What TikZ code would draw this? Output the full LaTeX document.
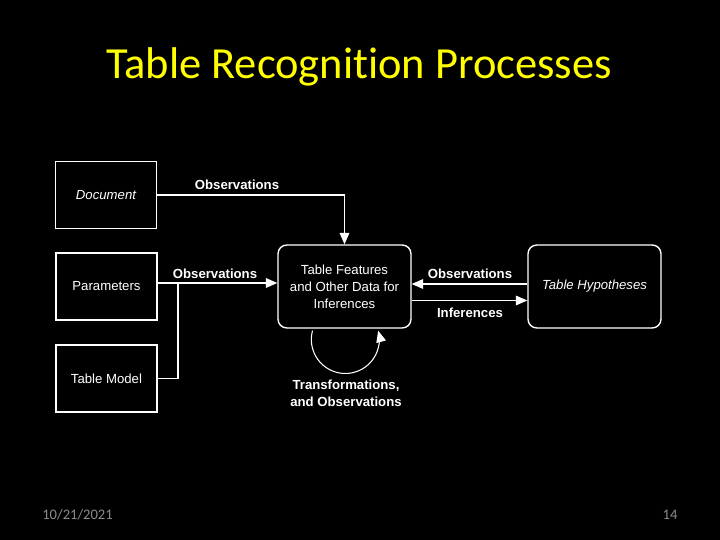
\documentclass[tikz,border=0pt]{standalone}
\usepackage{fontspec}
\setmainfont{Liberation Sans}
\newfontfamily\slidefont[Ligatures=NoCommon]{Carlito}
\usetikzlibrary{positioning,arrows.meta,calc}
\definecolor{titleyellow}{HTML}{FFFF00}
\definecolor{footgray}{HTML}{8C8C8C}
\begin{document}
\begin{tikzpicture}[x=0.02cm, y=-0.02cm,
        box/.style={draw=white, line width=1.1pt, minimum width=2.02cm, minimum height=1.34cm,
                    align=center, text=white, font=\fontsize{7.5}{9.6}\selectfont, inner sep=2pt},
        rbox/.style={box, rounded corners=5pt, line width=0.8pt, minimum width=2.66cm, minimum height=1.66cm},
        lbl/.style={text=white, font=\fontsize{7.5}{9.6}\selectfont\bfseries, align=center, inner sep=1pt},
        flow/.style={draw=white, line width=0.6pt, -{Triangle[length=6.5pt, width=5.5pt]}},
      ]
        % background
        \fill[black] (0,0) rectangle (720,540);
        % title
        \node[text=titleyellow, font=\slidefont\fontsize{25.3}{30}\selectfont] (title) at (359,67) {Table Recognition Processes};
        % inputs
        \node[box] (doc) at (106,195) {\itshape Document};
        \node[box] (par) at (106.5,286.5) {Parameters};
        \node[box] (tm) at (106.5,378.5) {Table Model};
        % table features
        \node[rbox] (feat) at (344.5,286.5) {Table Features\\and Other Data for\\Inferences};
        % hypotheses
        \node[rbox] (hyp) at (594.5,286.5) {\itshape Table Hypotheses};
        % document observations
        \draw[flow] (doc.east) -| (feat.north);
        \node[lbl] (obsdoc) at (237,185) {Observations};
        % parameters and model observations
        \coordinate (join) at (178,283);
        \draw[flow] ($(par.east)+(0,-3.5)$) -- ($(feat.west)+(0,-3.5)$);
        \draw[white, line width=0.6pt] (tm.east) -| (join);
        \node[lbl] (obspar) at (215,274) {Observations};
        % between features and hypotheses
        \draw[flow] ($(hyp.west)+(0,-2.5)$) -- ($(feat.east)+(0,-2.5)$);
        \draw[flow] ($(feat.east)+(0,14)$) -- ($(hyp.west)+(0,14)$);
        \node[lbl] (obshyp) at (470,274) {Observations};
        \node[lbl] (inf) at (470,313) {Inferences};
        % transformation loop
        \draw[flow] ($(feat.south)+(-32,2)$) arc[start angle=165, end angle=375, radius=0.68cm];
        \node[lbl] (trans) at (346,393.5) {Transformations,\\and Observations};
        % footer
        \node[text=footgray, font=\slidefont\fontsize{8.3}{10}\selectfont, anchor=west, inner sep=0pt] (date) at (42,515) {10/21/2021};
        \node[text=footgray, font=\slidefont\fontsize{8.3}{10}\selectfont, inner sep=0pt] (page) at (670,515) {14};
      \end{tikzpicture}
\end{document}
